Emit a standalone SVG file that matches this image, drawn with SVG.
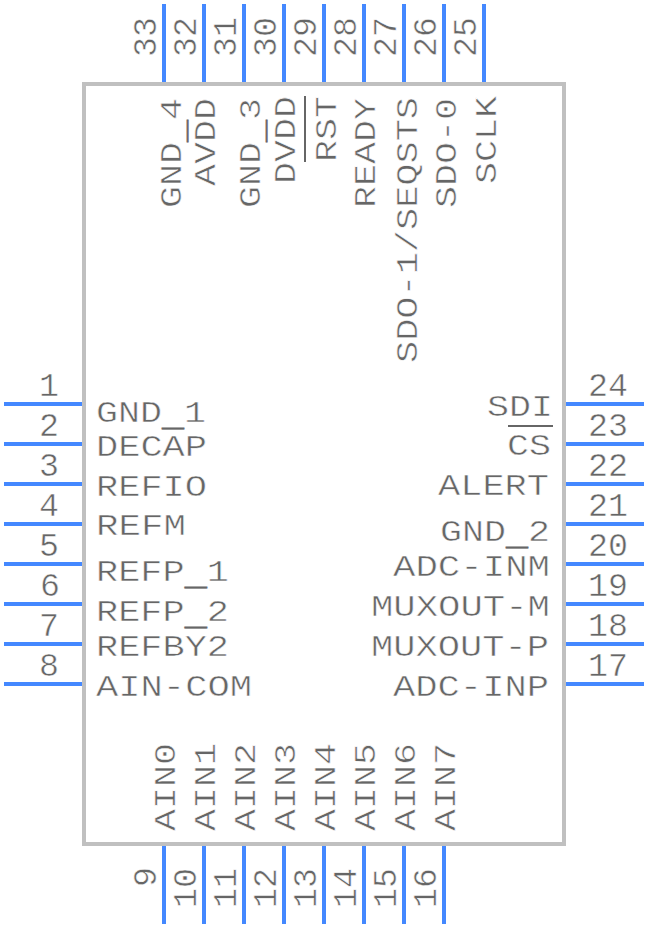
<svg xmlns="http://www.w3.org/2000/svg" width="648" height="928" viewBox="0 0 648 928">
<style>
text{font-family:"Liberation Mono",monospace;fill:#666;stroke:#fff;stroke-width:.5px;}
.l{font-size:30px;}
.n{font-size:33.3px;}
.u{stroke:#666;stroke-width:.6px;}
.a{stroke:#fff;stroke-width:.5px;}
.p{stroke:#4488ff;stroke-width:4;fill:none;}
.o{stroke:#666;stroke-width:2;fill:none;}
</style>
<rect id="body" x="84" y="84" width="480" height="760" fill="#fff" stroke="#c0c0c0" stroke-width="4"/>
<g id="connectors">
<path class="p" d="M4 404H82M4 444H82M4 484H82M4 524H82M4 564H82M4 604H82M4 644H82M4 684H82"/>
<path class="p" d="M566 404H644M566 444H644M566 484H644M566 524H644M566 564H644M566 604H644M566 644H644M566 684H644"/>
<path class="p" d="M164 4V82M204 4V82M244 4V82M284 4V82M324 4V82M364 4V82M404 4V82M444 4V82M484 4V82"/>
<path class="p" d="M164 846V924M204 846V924M244 846V924M284 846V924M324 846V924M364 846V924M404 846V924M444 846V924"/>
</g>
<g id="pin-numbers">
<text class="n" x="39" y="396">1</text><text class="n" x="39" y="436">2</text><text class="n" x="39" y="476">3</text><text class="n" x="39" y="516">4</text><text class="n" x="39" y="556">5</text><text class="n" x="40" y="596">6</text><text class="n" x="39" y="636">7</text><text class="n" x="39" y="676">8</text>
<text class="n" x="588" y="396">24</text><text class="n" x="588" y="436">23</text><text class="n" x="588" y="476">22</text><text class="n" x="588" y="516">21</text><text class="n" x="588" y="556">20</text><text class="n" x="588" y="596">19</text><text class="n" x="588" y="636">18</text><text class="n" x="588" y="676">17</text>
<text class="n" transform="translate(156 57) rotate(-90)">33</text><text class="n" transform="translate(196 57) rotate(-90)">32</text><text class="n" transform="translate(236 57) rotate(-90)">31</text><text class="n" transform="translate(276 57) rotate(-90)">30</text><text class="n" transform="translate(316 57) rotate(-90)">29</text><text class="n" transform="translate(356 57) rotate(-90)">28</text><text class="n" transform="translate(396 57) rotate(-90)">27</text><text class="n" transform="translate(436 57) rotate(-90)">26</text><text class="n" transform="translate(476 57) rotate(-90)">25</text>
<text class="n" transform="translate(156 887) rotate(-90)">9</text><text class="n" transform="translate(196 908) rotate(-90)">10</text><text class="n" transform="translate(236 908) rotate(-90)">11</text><text class="n" transform="translate(276 908) rotate(-90)">12</text><text class="n" transform="translate(316 908) rotate(-90)">13</text><text class="n" transform="translate(356 908) rotate(-90)">14</text><text class="n" transform="translate(396 908) rotate(-90)">15</text><text class="n" transform="translate(436 908) rotate(-90)">16</text>
</g>
<g id="left-labels">
<text class="l" x="96" y="422" textLength="110" lengthAdjust="spacingAndGlyphs">GND<tspan class="u" dy="4">_</tspan><tspan class="a" dy="-4">1</tspan></text>
<text class="l" x="96" y="456" textLength="111" lengthAdjust="spacingAndGlyphs">DECAP</text>
<text class="l" x="96" y="496" textLength="111" lengthAdjust="spacingAndGlyphs">REFIO</text>
<text class="l" x="96" y="535" textLength="90" lengthAdjust="spacingAndGlyphs">REFM</text>
<text class="l" x="96" y="581" textLength="133" lengthAdjust="spacingAndGlyphs">REFP<tspan class="u" dy="4">_</tspan><tspan class="a" dy="-4">1</tspan></text>
<text class="l" x="96" y="621" textLength="133" lengthAdjust="spacingAndGlyphs">REFP<tspan class="u" dy="4">_</tspan><tspan class="a" dy="-4">2</tspan></text>
<text class="l" x="96" y="656" textLength="133" lengthAdjust="spacingAndGlyphs">REFBY2</text>
<text class="l" x="96" y="696" textLength="156" lengthAdjust="spacingAndGlyphs">AIN-COM</text>
</g>
<g id="right-labels">
<text class="l" x="487" y="416" textLength="66" lengthAdjust="spacingAndGlyphs">SDI</text>
<text class="l" x="507" y="455" textLength="44" lengthAdjust="spacingAndGlyphs">CS</text>
<text class="l" x="438" y="495" textLength="111" lengthAdjust="spacingAndGlyphs">ALERT</text>
<text class="l" x="440" y="541" textLength="110" lengthAdjust="spacingAndGlyphs">GND<tspan class="u" dy="4">_</tspan><tspan class="a" dy="-4">2</tspan></text>
<text class="l" x="393" y="576" textLength="157" lengthAdjust="spacingAndGlyphs">ADC-INM</text>
<text class="l" x="371" y="616" textLength="179" lengthAdjust="spacingAndGlyphs">MUXOUT-M</text>
<text class="l" x="371" y="656" textLength="178" lengthAdjust="spacingAndGlyphs">MUXOUT-P</text>
<text class="l" x="393" y="696" textLength="156" lengthAdjust="spacingAndGlyphs">ADC-INP</text>
<path class="o" d="M508 426H553"/>
</g>
<g id="top-labels">
<text class="l" transform="translate(181 208) rotate(-90)" textLength="110" lengthAdjust="spacingAndGlyphs">GND<tspan class="u" dy="4">_</tspan><tspan class="a" dy="-4">4</tspan></text>
<text class="l" transform="translate(215 186) rotate(-90)" textLength="88" lengthAdjust="spacingAndGlyphs">AVDD</text>
<text class="l" transform="translate(260 208) rotate(-90)" textLength="110" lengthAdjust="spacingAndGlyphs">GND<tspan class="u" dy="4">_</tspan><tspan class="a" dy="-4">3</tspan></text>
<text class="l" transform="translate(295 184) rotate(-90)" textLength="88" lengthAdjust="spacingAndGlyphs">DVDD</text>
<text class="l" transform="translate(336 162) rotate(-90)" textLength="66" lengthAdjust="spacingAndGlyphs">RST</text>
<text class="l" transform="translate(375 208) rotate(-90)" textLength="110" lengthAdjust="spacingAndGlyphs">READY</text>
<text class="l" transform="translate(417 363) rotate(-90)" textLength="266" lengthAdjust="spacingAndGlyphs">SDO-1/SEQSTS</text>
<text class="l" transform="translate(456 208) rotate(-90)" textLength="110" lengthAdjust="spacingAndGlyphs">SDO-0</text>
<text class="l" transform="translate(496 184) rotate(-90)" textLength="88" lengthAdjust="spacingAndGlyphs">SCLK</text>
<path class="o" d="M305 96V162"/>
</g>
<g id="bottom-labels">
<text class="l" transform="translate(175 831) rotate(-90)" textLength="88" lengthAdjust="spacingAndGlyphs">AIN0</text>
<text class="l" transform="translate(215 831) rotate(-90)" textLength="88" lengthAdjust="spacingAndGlyphs">AIN1</text>
<text class="l" transform="translate(255 831) rotate(-90)" textLength="88" lengthAdjust="spacingAndGlyphs">AIN2</text>
<text class="l" transform="translate(295 831) rotate(-90)" textLength="88" lengthAdjust="spacingAndGlyphs">AIN3</text>
<text class="l" transform="translate(335 831) rotate(-90)" textLength="88" lengthAdjust="spacingAndGlyphs">AIN4</text>
<text class="l" transform="translate(375 831) rotate(-90)" textLength="88" lengthAdjust="spacingAndGlyphs">AIN5</text>
<text class="l" transform="translate(415 831) rotate(-90)" textLength="88" lengthAdjust="spacingAndGlyphs">AIN6</text>
<text class="l" transform="translate(455 831) rotate(-90)" textLength="88" lengthAdjust="spacingAndGlyphs">AIN7</text>
</g>
</svg>
